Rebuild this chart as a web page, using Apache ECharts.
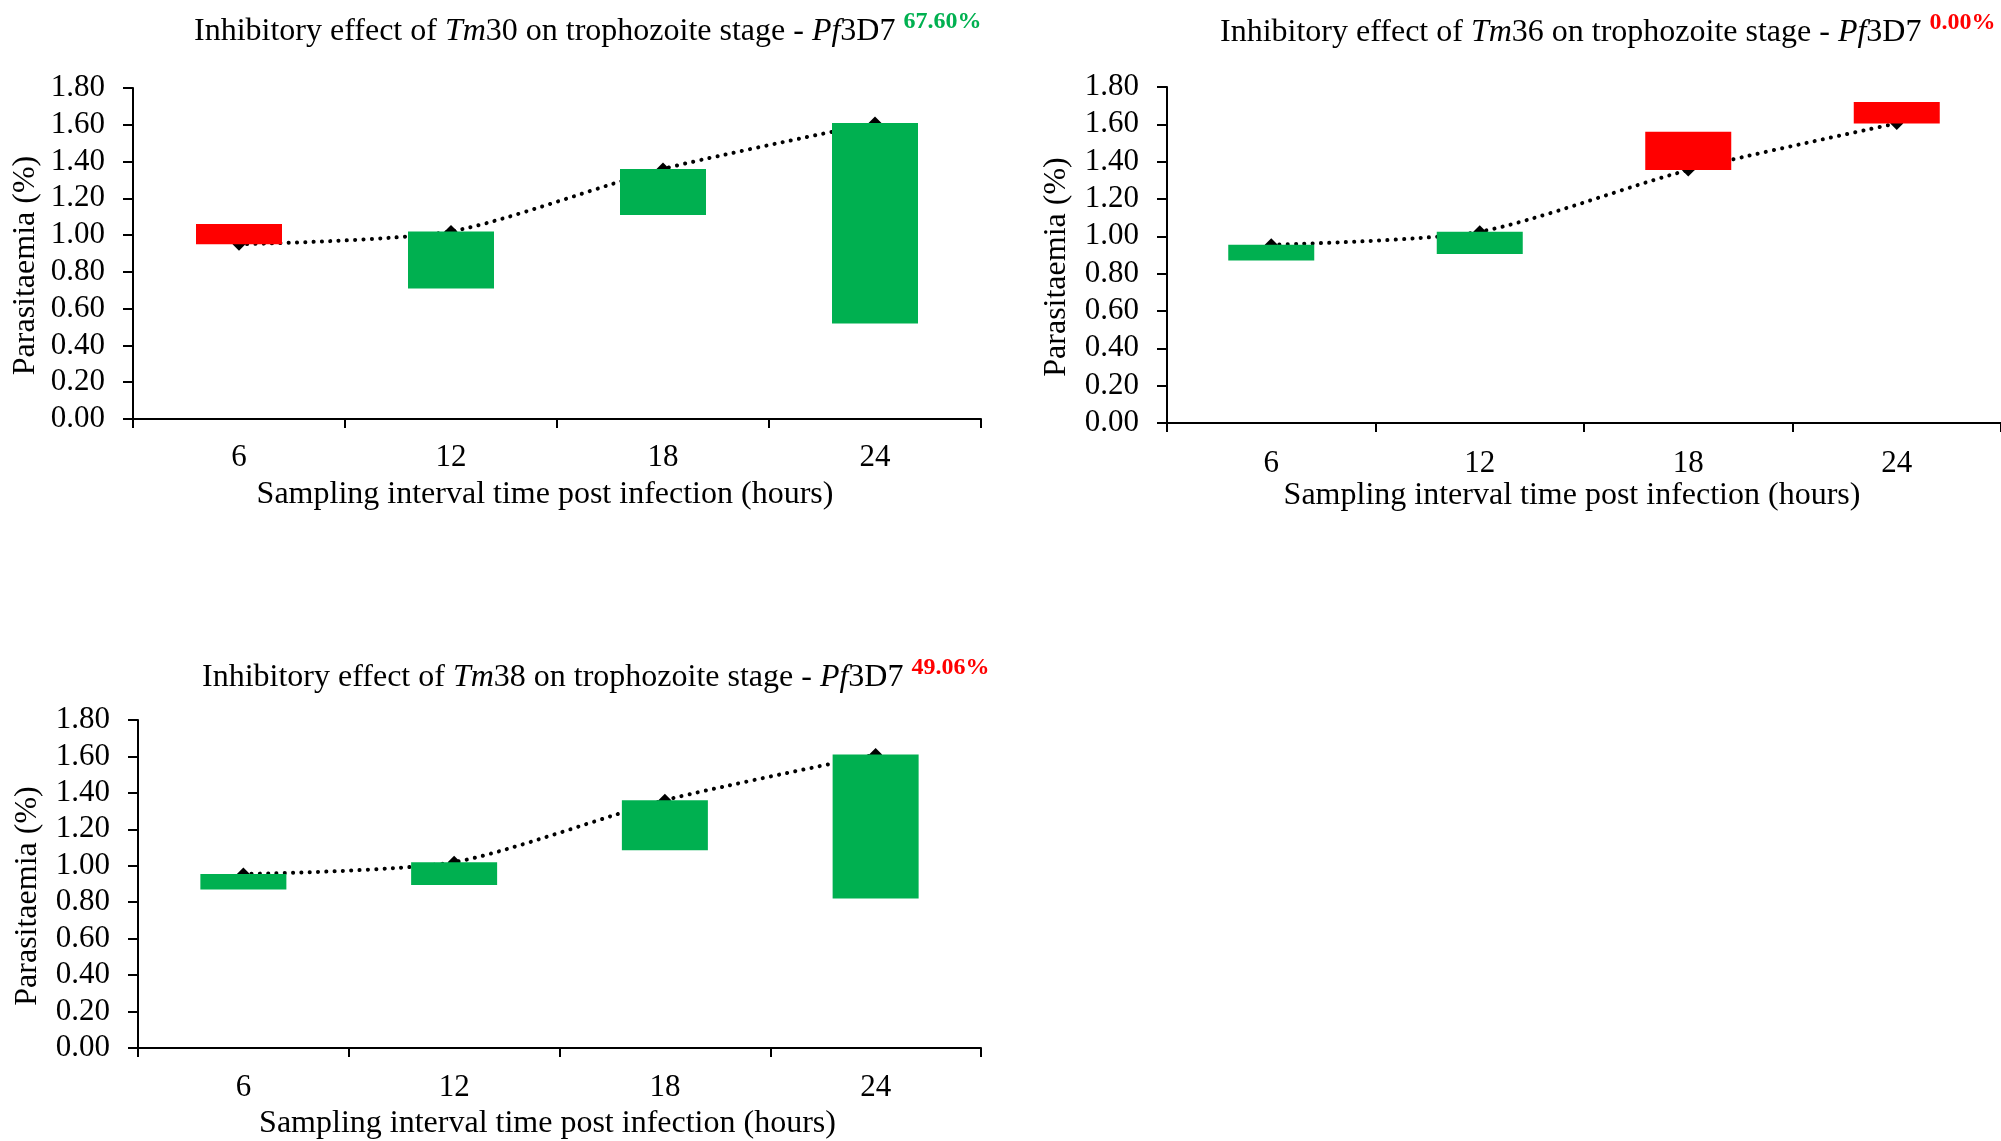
<!DOCTYPE html>
<html>
<head>
<meta charset="utf-8">
<script src="https://cdn.jsdelivr.net/npm/echarts@6/dist/echarts.min.js"></script>
<style>
  html, body { margin: 0; padding: 0; background: #ffffff; }
  #chart { width: 2001px; height: 1141px; }
</style>
</head>
<body>
<div id="chart"></div>
<script>
// ---------- data ----------
const categories = ['6', '12', '18', '24'];

const tm30Control = [0.95, 1.02, 1.36, 1.61];
const tm30Treated = [1.06, 0.71, 1.11, 0.52];

const tm36Control = [0.955, 1.025, 1.355, 1.605];
const tm36Treated = [0.87, 0.905, 1.56, 1.72];

const tm38Control = [0.955, 1.02, 1.36, 1.61];
const tm38Treated = [0.87, 0.895, 1.085, 0.82];

const compounds = ['30', '36', '38'];
const inhibition = ['67.60%', '0.00%', '49.06%'];
const inhibitionColors = ['#00B050', '#FF0000', '#FF0000'];

const yMin = 0, yMax = 1.8, yInterval = 0.2;
const xAxisName = 'Sampling interval time post infection (hours)';
const yAxisName = 'Parasitaemia (%)';

// ---------- layout ----------
const FONT = "'Times New Roman', 'Liberation Serif', serif";
const GREEN = '#00B050';
const RED = '#FF0000';

const grids = [
  { left: 133, top: 88, width: 848, height: 331 },
  { left: 1167, top: 87, width: 841, height: 336 },
  { left: 138, top: 720, width: 843, height: 333 }
];
const titlePos = [
  { left: 194, top: 12 },
  { left: 1220, top: 13 },
  { left: 202, top: 658 }
];
const yNameGap = [91, 94, 94];
const xLabelMargin = [23, 25, 24];
const xNameGap = [60, 56, 60];

const controls = [tm30Control, tm36Control, tm38Control];
const treateds = [tm30Treated, tm36Treated, tm38Treated];

const option = {
  backgroundColor: '#ffffff',
  animation: false,
  title: [],
  grid: [],
  xAxis: [],
  yAxis: [],
  series: []
};

for (let p = 0; p < 3; p++) {
  const ctrl = controls[p];
  const trt = treateds[p];

  option.title.push({
    left: titlePos[p].left,
    top: titlePos[p].top,
    padding: 0,
    text: '{n|Inhibitory effect of }{i|Tm}{n|' + compounds[p] + ' on trophozoite stage - }{i|Pf}{n|3D7 }{s|' + inhibition[p] + '}',
    textStyle: {
      fontFamily: FONT,
      fontWeight: 'normal',
      rich: {
        n: { fontFamily: FONT, fontSize: 32, fontWeight: 'normal', color: '#000', lineHeight: 40, verticalAlign: 'middle' },
        i: { fontFamily: FONT, fontSize: 32, fontWeight: 'normal', color: '#000', fontStyle: 'italic', lineHeight: 40, verticalAlign: 'middle' },
        s: { fontFamily: FONT, fontSize: 24, fontWeight: 'bold', color: inhibitionColors[p], lineHeight: 20, padding: [0, 0, 20, 0], verticalAlign: 'middle' }
      }
    }
  });

  option.grid.push(Object.assign({ containLabel: false }, grids[p]));

  option.xAxis.push({
    type: 'category',
    gridIndex: p,
    data: categories,
    boundaryGap: true,
    axisLine: { show: true, lineStyle: { color: '#000', width: 2 } },
    axisTick: { show: true, inside: false, length: 9, interval: 0, lineStyle: { color: '#000', width: 2 } },
    axisLabel: { color: '#000', fontFamily: FONT, fontSize: 31, margin: xLabelMargin[p] },
    splitLine: { show: false },
    name: xAxisName,
    nameLocation: 'middle',
    nameGap: xNameGap[p],
    nameTextStyle: { color: '#000', fontFamily: FONT, fontSize: 32, padding: [0, 24, 0, 0] }
  });

  option.yAxis.push({
    type: 'value',
    gridIndex: p,
    min: yMin,
    max: yMax,
    interval: yInterval,
    axisLine: { show: true, lineStyle: { color: '#000', width: 2 } },
    axisTick: { show: true, inside: false, length: 10, lineStyle: { color: '#000', width: 2 } },
    axisLabel: { color: '#000', fontFamily: FONT, fontSize: 31, margin: 28, formatter: v => v.toFixed(2) },
    splitLine: { show: false },
    name: yAxisName,
    nameLocation: 'middle',
    nameRotate: 90,
    nameGap: yNameGap[p],
    nameTextStyle: { color: '#000', fontFamily: FONT, fontSize: 32, padding: [0, 24, 0, 0] }
  });

  // control line (drawn beneath bars)
  option.series.push({
    type: 'line',
    xAxisIndex: p,
    yAxisIndex: p,
    data: ctrl,
    smooth: 0.25,
    z: 1,
    symbol: 'diamond',
    symbolSize: 13,
    itemStyle: { color: '#000' },
    lineStyle: { color: '#000', width: 4, type: [0.1, 8.2], cap: 'round' }
  });

  // floating bars: transparent base + coloured change
  option.series.push({
    type: 'bar',
    xAxisIndex: p,
    yAxisIndex: p,
    stack: 'float' + p,
    barWidth: 86,
    z: 3,
    silent: true,
    itemStyle: { color: 'rgba(0,0,0,0)' },
    data: ctrl.map((c, k) => Math.min(c, trt[k]))
  });
  option.series.push({
    type: 'bar',
    xAxisIndex: p,
    yAxisIndex: p,
    stack: 'float' + p,
    barWidth: 86,
    z: 3,
    data: ctrl.map((c, k) => ({
      value: Math.abs(trt[k] - c),
      itemStyle: { color: trt[k] < c ? GREEN : RED }
    }))
  });
}

const chart = echarts.init(document.getElementById('chart'), null, { renderer: 'canvas' });
chart.setOption(option);
</script>
</body>
</html>
